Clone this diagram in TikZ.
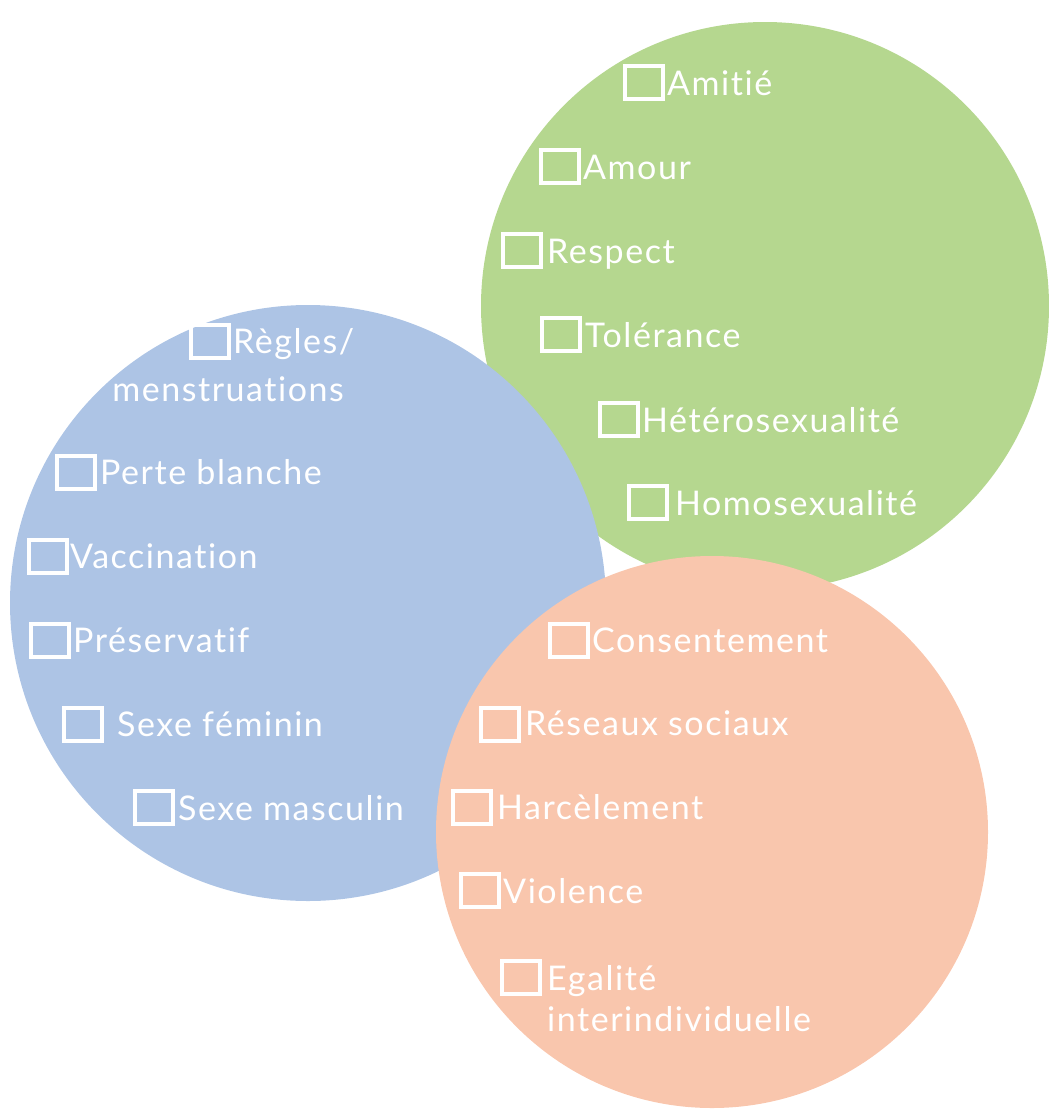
\documentclass[tikz,border=0pt]{standalone}
\usepackage{fontspec}
\newfontfamily\itemfont{Lato}[LetterSpace=4.5,Ligatures=NoCommon]
\definecolor{greencircle}{RGB}{181,215,143}
\definecolor{bluecircle}{RGB}{173,196,229}
\definecolor{salmoncircle}{RGB}{249,198,173}
\tikzset{
  tick/.style={draw=white, line width=4pt, minimum width=38pt, minimum height=33pt, inner sep=0pt},
  item/.style={text=white, anchor=base west, inner sep=0pt, font=\itemfont\fontsize{34}{40}\selectfont}
}

\begin{document}
\begin{tikzpicture}[x=1pt,y=-1pt]
        \useasboundingbox (0,0) rectangle (1049,1111);
        \fill [greencircle] (765,306) circle [radius=284pt];
        \fill [bluecircle] (308,603) circle [radius=298pt];
        \fill [salmoncircle] (712,832) circle [radius=276pt];
    % green circle
        \node[tick] (amitie box) at (644,82) {};
        \node[item] (amitie) at (667,95) {Amitié};
        \node[tick] (amour box) at (560,166) {};
        \node[item] (amour) at (583,179) {Amour};
        \node[tick] (respect box) at (522,250) {};
        \node[item] (respect) at (547,263) {Respect};
        \node[tick] (tolerance box) at (561,334) {};
        \node[item] (tolerance) at (585,347) {Tolérance};
        \node[tick] (hetero box) at (619,419) {};
        \node[item] (hetero) at (642,432) {Hétérosexualité};
        \node[tick] (homo box) at (648,502) {};
        \node[item] (homo) at (675,515) {Homosexualité};
    % blue circle
        \node[tick] (regles box) at (210,341) {};
        \node[item] (regles) at (233,353) {Règles/};
        \node[item, anchor=base east] (menstruations) at (344,401) {menstruations};
        \node[tick] (perte box) at (76,472) {};
        \node[item] (perte) at (100,484) {Perte blanche};
        \node[tick] (vaccination box) at (48,556) {};
        \node[item] (vaccination) at (70,568) {Vaccination};
        \node[tick] (preservatif box) at (50,640) {};
        \node[item] (preservatif) at (73,652) {Préservatif};
        \node[tick] (feminin box) at (83,724) {};
        \node[item] (feminin) at (117,736) {Sexe féminin};
        \node[tick] (masculin box) at (154,807) {};
        \node[item] (masculin) at (178,820) {Sexe masculin};
    % salmon circle
        \node[tick] (consentement box) at (569,640) {};
        \node[item] (consentement) at (592,652) {Consentement};
        \node[tick] (reseaux box) at (500,724) {};
        \node[item] (reseaux) at (525,735) {Réseaux sociaux};
        \node[tick] (harcelement box) at (472,807) {};
        \node[item] (harcelement) at (497,819) {Harcèlement};
        \node[tick] (violence box) at (480,890) {};
        \node[item] (violence) at (503,903) {Violence};
        \node[tick] (egalite box) at (521,977) {};
        \node[item] (egalite) at (547,990) {Egalité};
        \node[item] (interindividuelle) at (547,1031) {interindividuelle};
\end{tikzpicture}
\end{document}
